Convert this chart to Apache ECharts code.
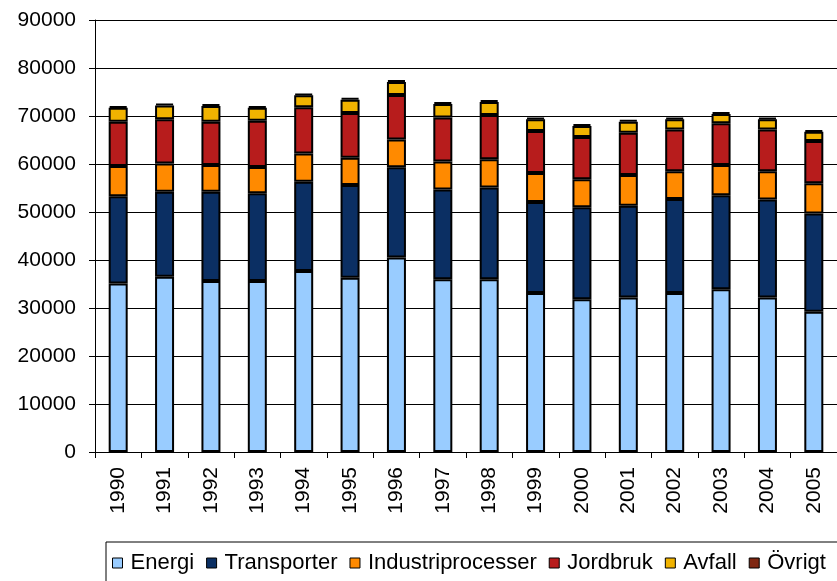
<!DOCTYPE html>
<html>
<head>
<meta charset="utf-8">
<script src="https://cdn.jsdelivr.net/npm/echarts@6/dist/echarts.min.js"></script>
<style>
  html, body { margin: 0; padding: 0; background: #fff; }
  #chart { width: 837px; height: 581px; }
</style>
</head>
<body>
<div id="chart"></div>
<script>
var years = ['1990','1991','1992','1993','1994','1995','1996','1997','1998','1999','2000','2001','2002','2003','2004','2005'];

var energi = [35100, 36500, 35600, 35600, 37700, 36300, 40500, 36000, 36000, 33100, 31800, 32200, 33100, 33900, 32200, 29200];
var transporter = [18200, 17700, 18600, 18300, 18600, 19300, 18800, 18700, 19100, 19000, 19200, 19100, 19600, 19600, 20400, 20500];
var industriprocesser = [6300, 5900, 5600, 5500, 5900, 5700, 5800, 5800, 5900, 6000, 5800, 6400, 5800, 6300, 5900, 6300];
var jordbruk = [9200, 9200, 9000, 9600, 9600, 9300, 9300, 9200, 9200, 8800, 8800, 8800, 8700, 8700, 8700, 8800];
var avfall = [2900, 2900, 3300, 2700, 2500, 2800, 2700, 2800, 2700, 2400, 2300, 2300, 2100, 1900, 2100, 1900];
var ovrigt = [400, 400, 400, 400, 400, 400, 400, 400, 400, 400, 400, 400, 400, 400, 400, 400];

var yTicks = [0, 10000, 20000, 30000, 40000, 50000, 60000, 70000, 80000, 90000];

var colors = ['#99ccff', '#0b2f63', '#ff8a00', '#b71c1c', '#f1b300', '#7f2712'];
var names = ['Energi', 'Transporter', 'Industriprocesser', 'Jordbruk', 'Avfall', 'Övrigt'];
var values = [energi, transporter, industriprocesser, jordbruk, avfall, ovrigt];

var font = 'Liberation Sans, Arial, sans-serif';

var series = names.map(function (n, i) {
    return {
        name: n,
        type: 'bar',
        stack: 'total',
        barWidth: 19,
        data: values[i],
        itemStyle: {
            color: colors[i],
            borderColor: '#000',
            borderWidth: 2
        }
    };
});

var myChart = echarts.init(document.getElementById('chart'), null, { renderer: 'canvas' });
var option = {
    animation: false,
    backgroundColor: '#fff',
    color: colors,
    grid: {
        left: 95,
        right: -13,
        top: 20,
        bottom: 129,
        containLabel: false
    },
    legend: {
        left: 106,
        top: 542,
        width: 900,
        orient: 'horizontal',
        padding: [10, 20, 10, 6],
        itemGap: 12,
        itemWidth: 10,
        itemHeight: 10,
        icon: 'rect',
        borderColor: '#000',
        borderWidth: 1,
        backgroundColor: '#fff',
        itemStyle: { borderColor: '#000', borderWidth: 1 },
        textStyle: {
            fontFamily: font,
            fontSize: 22,
            color: '#000',
            padding: [0, 0, 0, 3]
        },
        data: names
    },
    xAxis: {
        type: 'category',
        data: years,
        axisLine: { lineStyle: { color: '#000', width: 1 } },
        axisTick: { show: true, length: 6, lineStyle: { color: '#000' } },
        axisLabel: {
            rotate: 90,
            margin: 15,
            fontFamily: font,
            fontSize: 21,
            color: '#000'
        }
    },
    yAxis: {
        type: 'value',
        min: yTicks[0],
        max: yTicks[yTicks.length - 1],
        interval: 10000,
        axisLine: { show: true, lineStyle: { color: '#000', width: 1 } },
        axisTick: { show: true, length: 6, lineStyle: { color: '#000' } },
        axisLabel: {
            margin: 19,
            fontFamily: font,
            fontSize: 21,
            color: '#000',
            formatter: function (v) { return String(v); }
        },
        splitLine: { show: true, lineStyle: { color: '#000', width: 1 } }
    },
    series: series
};

myChart.setOption(option);
</script>
</body>
</html>
